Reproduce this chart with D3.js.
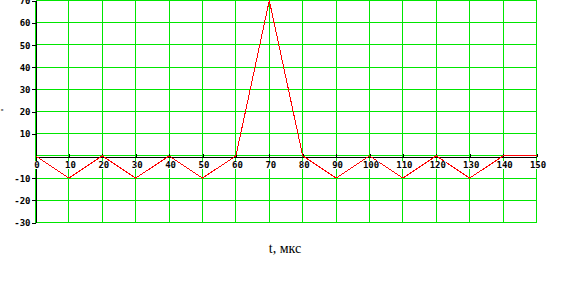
<!DOCTYPE html>
<html>
<head>
<meta charset="utf-8">
<script src="https://cdn.jsdelivr.net/npm/d3@7"></script>
<style>
  html, body { margin: 0; padding: 0; background: #fff; }
  svg { display: block; }
</style>
</head>
<body>
<div id="chart"></div>
<script>
// Zeitpunkte (mks) und Signalwerte
const tValues = [0, 10, 20, 30, 40, 50, 60, 70, 80, 90, 100, 110, 120, 130, 140, 150];
const signal  = [0, -10, 0, -10, 0, -10, 0, 70, 0, -10, 0, -10, 0, -10, 0, 0];

const xTickLabels = [0, 10, 20, 30, 40, 50, 60, 70, 80, 90, 100, 110, 120, 130, 140, 150];
const yTickLabels = [70, 60, 50, 40, 30, 20, 10, -10, -20, -30];
const yGrid = [70, 60, 50, 40, 30, 20, 10, 0, -10, -20, -30];

const xLabel = "t, мкс";

const width = 571, height = 294;
const gridColor = "#00e600";
const tickFont = "bold 9px 'DejaVu Sans Mono', monospace";

const svg = d3.select("#chart")
    .append("svg")
    .attr("width", width)
    .attr("height", height)
    .attr("shape-rendering", "crispEdges");

const x = d3.scaleLinear().domain([0, 150]).range([35.5, 536.5]);
const y = d3.scaleLinear().domain([-30, 70]).range([222.5, 0.5]);

// Gitterlinien
svg.append("g").selectAll("line.v")
    .data(xTickLabels)
    .enter().append("line")
    .attr("x1", d => x(d)).attr("x2", d => x(d))
    .attr("y1", y(70)).attr("y2", y(-30))
    .attr("stroke", gridColor);

svg.append("g").selectAll("line.h")
    .data(yGrid)
    .enter().append("line")
    .attr("x1", x(0)).attr("x2", x(150))
    .attr("y1", d => y(d)).attr("y2", d => y(d))
    .attr("stroke", gridColor);

// x-Achse (eine Zeile unter der Null-Linie)
const xAxis = svg.append("g")
    .attr("transform", `translate(0, ${y(0) + 1})`)
    .call(d3.axisBottom(x).tickValues(xTickLabels).tickSize(-3).tickSizeOuter(0).tickFormat(""));
xAxis.select(".domain").attr("stroke", "#000");
xAxis.selectAll(".tick line").attr("stroke", "#000");

// y-Achse
const yAxis = svg.append("g")
    .attr("transform", `translate(${x(0)}, 0)`)
    .call(d3.axisLeft(y).tickValues(yTickLabels).tickSize(4).tickSizeOuter(0).tickPadding(1).tickFormat(d => d));
yAxis.select(".domain").attr("stroke", "#000");
yAxis.selectAll(".tick line").attr("stroke", "#000");
yAxis.selectAll(".tick text")
    .attr("fill", "#000")
    .style("font", tickFont)
    .attr("dy", "0.35em");

// Signal
const line = d3.line()
    .x((d, i) => x(tValues[i]))
    .y(d => y(d));

svg.append("path")
    .datum(signal)
    .attr("d", line)
    .attr("fill", "none")
    .attr("stroke", "#ff0000")
    .attr("stroke-width", 1);

// Beschriftung der x-Achse mit weißem Hintergrund
const xLabels = svg.append("g").selectAll("g")
    .data(xTickLabels)
    .enter().append("g")
    .attr("transform", d => `translate(${x(d) + 1.5}, ${y(0) + 12})`);

xLabels.append("text")
    .attr("text-anchor", "middle")
    .attr("fill", "#000")
    .style("font", tickFont)
    .text(d => d)
    .each(function() {
        const b = this.getBBox();
        d3.select(this.parentNode).insert("rect", "text")
            .attr("x", b.x).attr("y", b.y + 1)
            .attr("width", b.width).attr("height", b.height - 2)
            .attr("fill", "#fff");
    });

// Achsentitel
svg.append("text")
    .attr("x", 285)
    .attr("y", 253)
    .attr("text-anchor", "middle")
    .attr("fill", "#000")
    .style("font", "14px 'Liberation Serif', serif")
    .text(xLabel);

// abgeschnittener y-Titel am linken Rand
svg.append("text")
    .attr("x", 0)
    .attr("y", 112)
    .attr("fill", "#000")
    .style("font", "bold 7px 'DejaVu Sans Mono', monospace")
    .text("-");
</script>
</body>
</html>
